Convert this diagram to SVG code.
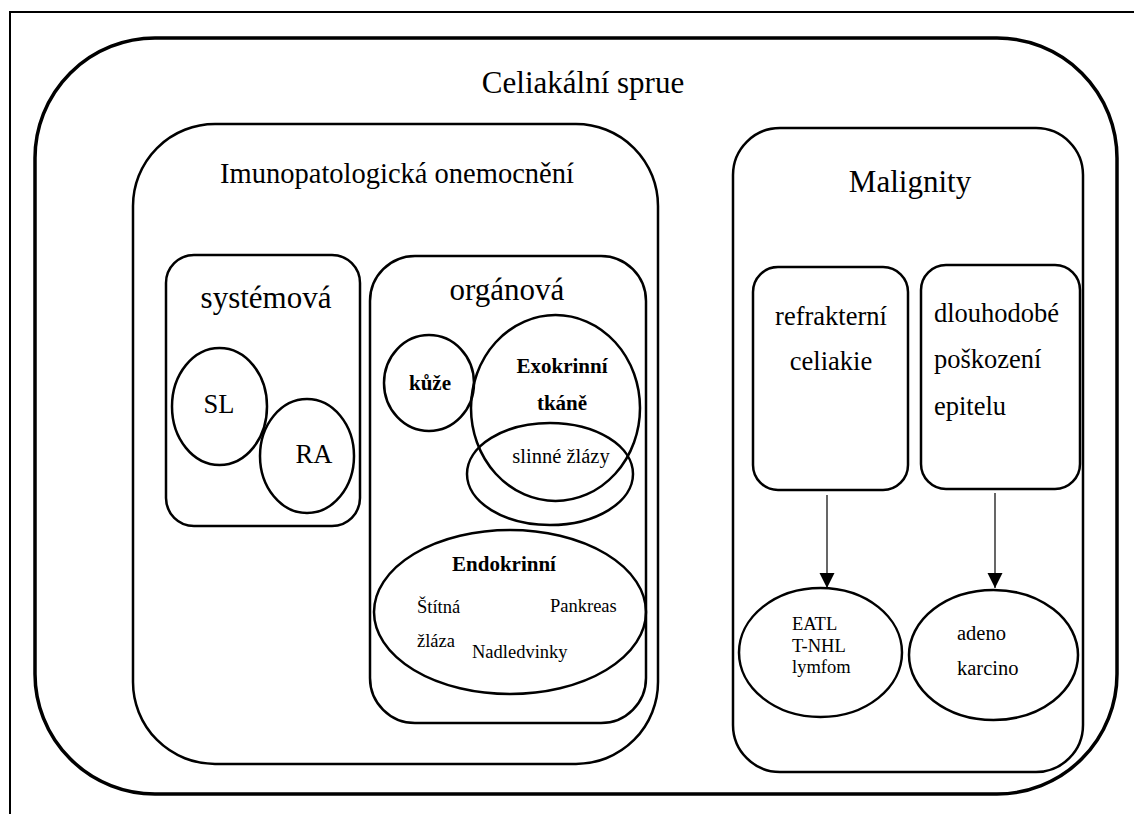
<svg xmlns="http://www.w3.org/2000/svg" width="1134" height="814" viewBox="0 0 1134 814">
<style>
text{font-family:"Liberation Serif","Times New Roman",serif;fill:#000}
.title{font-size:31px;text-anchor:middle}
.lbl{font-size:26.5px}
.mid{text-anchor:middle}
.b{font-weight:bold;font-size:21px}
.s{font-size:18.5px}
.m{font-size:20.5px}
.box{fill:none;stroke:#000;stroke-width:2.5}
.thick{fill:none;stroke:#000;stroke-width:3.5}
.conn{stroke:#000;stroke-width:1.2;fill:none}
</style>
<defs>
<marker id="arr" markerWidth="16" markerHeight="16" refX="15" refY="7.5" orient="auto" markerUnits="userSpaceOnUse">
<path d="M0,0 L15,7.5 L0,15 Z" fill="#000"/>
</marker>
</defs>
<rect width="1134" height="814" fill="#fff"/>
<g id="frame"><rect x="10" y="12" width="1134" height="812" fill="none" stroke="#000" stroke-width="2"/></g>
<g id="celiakalni">
<rect class="thick" x="35" y="38" width="1082" height="756" rx="120" ry="120"/>
<text class="title" x="583" y="93">Celiakální sprue</text>
</g>
<g id="imuno">
<rect class="box" x="133" y="124" width="525" height="640" rx="82" ry="82"/>
<text class="title" x="397" y="183" style="font-size:28.5px">Imunopatologická onemocnění</text>
</g>
<g id="systemova">
<rect class="box" x="166" y="255" width="194" height="271" rx="28" ry="28"/>
<text class="title" x="266" y="308">systémová</text>
</g>
<g id="sl">
<ellipse class="box" cx="219.5" cy="406.5" rx="47.5" ry="58.5"/>
<text class="lbl mid" x="219" y="413">SL</text>
</g>
<g id="ra">
<ellipse class="box" cx="307" cy="456" rx="47" ry="57"/>
<text class="lbl mid" x="314" y="463">RA</text>
</g>
<g id="organova">
<rect class="box" x="370" y="256" width="276" height="467" rx="45" ry="45"/>
<text class="title" x="507" y="300">orgánová</text>
</g>
<g id="kuze">
<ellipse class="box" cx="429" cy="383" rx="45" ry="48"/>
<text class="b mid" x="430" y="390">kůže</text>
</g>
<g id="exokrinni">
<ellipse class="box" cx="555.5" cy="408" rx="84.5" ry="93"/>
<text class="b mid" x="562" y="373">Exokrinní</text>
<text class="b mid" x="562" y="410">tkáně</text>
</g>
<g id="slinne">
<ellipse class="box" cx="550" cy="474" rx="83" ry="51"/>
<text class="m mid" x="561" y="463">slinné žlázy</text>
</g>
<g id="endokrinni">
<ellipse class="box" cx="510" cy="612" rx="136" ry="82"/>
<text class="b mid" x="504" y="571">Endokrinní</text>
<text class="s" x="417" y="613">Štítná</text>
<text class="s" x="417" y="647">žláza</text>
<text class="s" x="550" y="612">Pankreas</text>
<text class="s" x="472" y="658">Nadledvinky</text>
</g>
<g id="malignity">
<rect class="box" x="733" y="128" width="350" height="644" rx="47" ry="47"/>
<text class="title" x="910" y="192">Malignity</text>
</g>
<g id="refrakterni">
<rect class="box" x="753" y="267" width="155" height="223" rx="25" ry="25"/>
<text class="lbl mid" x="831" y="325">refrakterní</text>
<text class="lbl mid" x="831" y="370">celiakie</text>
</g>
<g id="dlouhodobe">
<rect class="box" x="921" y="265" width="159" height="224" rx="25" ry="25"/>
<text class="lbl" x="934" y="322">dlouhodobé</text>
<text class="lbl" x="934" y="368">poškození</text>
<text class="lbl" x="934" y="415">epitelu</text>
</g>
<g id="eatl">
<ellipse class="box" cx="820.5" cy="652.5" rx="81.5" ry="64.5"/>
<text class="s" x="792" y="630">EATL</text>
<text class="s" x="792" y="652">T-NHL</text>
<text class="s" x="792" y="673">lymfom</text>
</g>
<g id="adeno">
<ellipse class="box" cx="993.5" cy="655" rx="84.5" ry="65"/>
<text class="m" x="957" y="640">adeno</text>
<text class="m" x="957" y="675">karcino</text>
</g>
<g id="connectors">
<line class="conn" x1="827" y1="495" x2="827" y2="588" marker-end="url(#arr)"/>
<line class="conn" x1="995" y1="493" x2="995" y2="588" marker-end="url(#arr)"/>
</g>
</svg>
